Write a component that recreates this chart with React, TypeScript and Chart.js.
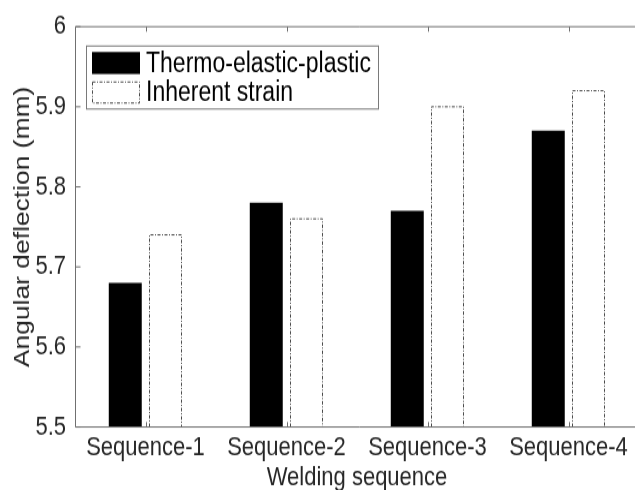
import React, { useEffect, useRef } from "react";
import { Chart, registerables } from "chart.js";

Chart.register(...registerables);

const categories = ["Sequence-1", "Sequence-2", "Sequence-3", "Sequence-4"];
const thermoValues = [5.68, 5.78, 5.77, 5.87];
const inherentValues = [5.74, 5.76, 5.9, 5.92];
const seriesLabels = ["Thermo-elastic-plastic", "Inherent strain"];
const yTicks = [5.5, 5.6, 5.7, 5.8, 5.9, 6];
const yTickLabels = ["5.5", "5.6", "5.7", "5.8", "5.9", "6"];
const xTitle = "Welding sequence";
const yTitle = "Angular deflection (mm)";

const FONT = "'Liberation Sans', Arial, Helvetica, sans-serif";
const TEXT = "#262626";
const AXIS = "#707070";

// the reference picture is stretched vertically; render at a reduced height and stretch with CSS
const CANVAS_W = 645;
const CANVAS_H = 408;
const VIEW_H = 490;
const K = CANVAS_H / VIEW_H;

const framePlugin = {
  id: "matlabFrame",
  afterDatasetsDraw(chart: any) {
    const ctx = chart.ctx;
    const area = chart.chartArea;
    const xs = chart.scales.x;
    const ys = chart.scales.y;
    ctx.save();

    const L = Math.round(area.left) + 0.5;
    const R = area.right;
    const T = area.top;
    const B = area.bottom;

    // dashed outlines of the second series
    const meta = chart.getDatasetMeta(1);
    ctx.strokeStyle = "#4a4a4a";
    ctx.lineWidth = 1;
    ctx.setLineDash([3, 1.5, 1, 1.5]);
    meta.data.forEach((el: any) => {
      const p = el.getProps(["x", "y", "base", "width"], true);
      const l = Math.round(p.x - p.width / 2) + 0.5;
      const r = Math.round(p.x + p.width / 2) - 0.5;
      const t = p.y;
      const b = Math.min(p.base, B);
      ctx.beginPath();
      ctx.moveTo(l, b);
      ctx.lineTo(l, t);
      ctx.lineTo(r, t);
      ctx.lineTo(r, b);
      ctx.stroke();
    });
    ctx.setLineDash([]);

    // axes box (left, top, bottom)
    ctx.strokeStyle = AXIS;
    ctx.lineWidth = 1;
    ctx.beginPath();
    ctx.moveTo(R + 5, T);
    ctx.lineTo(L, T);
    ctx.lineTo(L, B);
    ctx.lineTo(R + 5, B);
    ctx.stroke();

    // inward ticks
    ctx.beginPath();
    yTicks.forEach((v) => {
      const y = ys.getPixelForValue(v);
      ctx.moveTo(L, y);
      ctx.lineTo(L + 5, y);
    });
    categories.forEach((_, i) => {
      const x = Math.round(xs.getPixelForValue(i)) + 0.5;
      ctx.moveTo(x, B);
      ctx.lineTo(x, B - 5 * K);
      ctx.moveTo(x, T);
      ctx.lineTo(x, T + 5 * K);
    });
    ctx.stroke();

    // legend
    const lx = 86.5;
    const ly = 46 * K;
    const lw = 292;
    const lh = 63 * K;
    ctx.fillStyle = "#ffffff";
    ctx.fillRect(lx, ly, lw, lh);
    ctx.strokeStyle = "#7a7a7a";
    ctx.strokeRect(lx, ly, lw, lh);

    ctx.font = `23px ${FONT}`;
    ctx.textBaseline = "middle";
    ctx.textAlign = "left";
    ctx.fillStyle = "#000000";
    ctx.fillRect(92, 52 * K, 48, 22 * K);
    ctx.fillText(chart.data.datasets[0].label, 146, 64 * K);
    ctx.strokeStyle = "#4a4a4a";
    ctx.setLineDash([3, 1.5, 1, 1.5]);
    ctx.strokeRect(92.5, 82 * K, 47, 21 * K);
    ctx.setLineDash([]);
    ctx.fillStyle = "#000000";
    ctx.fillText(chart.data.datasets[1].label, 146, 93 * K);

    ctx.restore();
  },
};

export default function App() {
  const ref = useRef<HTMLCanvasElement | null>(null);

  useEffect(() => {
    if (!ref.current) return;
    const chart = new Chart(ref.current, {
      type: "bar",
      data: {
        labels: categories,
        datasets: [
          {
            label: seriesLabels[0],
            data: thermoValues,
            backgroundColor: "#000000",
            borderColor: "#000000",
            borderWidth: 0,
            categoryPercentage: 0.574,
            barPercentage: 0.815,
          },
          {
            label: seriesLabels[1],
            data: inherentValues,
            backgroundColor: "#ffffff",
            borderWidth: 0,
            categoryPercentage: 0.574,
            barPercentage: 0.815,
          },
        ],
      },
      options: {
        responsive: false,
        animation: false,
        devicePixelRatio: 1,
        layout: { padding: { top: 19 * K, right: 6, left: 0, bottom: 0 } },
        plugins: {
          legend: { display: false },
          tooltip: { enabled: false },
        },
        scales: {
          x: {
            type: "category",
            offset: true,
            grid: { display: false, drawTicks: false },
            border: { display: false },
            ticks: {
              color: TEXT,
              font: { family: FONT, size: 22 },
              padding: 4,
              maxRotation: 0,
              autoSkip: false,
            },
            title: {
              display: true,
              text: xTitle,
              color: TEXT,
              font: { family: FONT, size: 22 },
              padding: { top: 0, bottom: -3 },
            },
            afterFit(scale: any) {
              scale.height = CANVAS_H - 427 * K;
            },
          },
          y: {
            min: 5.5,
            max: 6,
            grid: { display: false, drawTicks: false },
            border: { display: false },
            afterBuildTicks(scale: any) {
              scale.ticks = yTicks.map((v) => ({ value: v }));
            },
            ticks: {
              color: TEXT,
              font: { family: FONT, size: 22 },
              padding: 9,
              callback: (v: any) => {
                const i = yTicks.findIndex((t) => Math.abs(t - Number(v)) < 1e-9);
                return i >= 0 ? yTickLabels[i] : "";
              },
            },
            title: {
              display: true,
              text: yTitle,
              color: TEXT,
              font: { family: FONT, size: 22 },
              padding: { top: 10, bottom: 0 },
            },
            afterFit(scale: any) {
              scale.width = 75;
            },
          },
        },
      },
      plugins: [framePlugin],
    });
    return () => chart.destroy();
  }, []);

  return (
    <div
      style={{
        position: "fixed",
        left: 0,
        top: 0,
        width: 635,
        height: VIEW_H,
        overflow: "hidden",
        background: "#ffffff",
      }}
    >
      <canvas
        ref={ref}
        width={CANVAS_W}
        height={CANVAS_H}
        style={{ display: "block", width: CANVAS_W + "px", height: VIEW_H + "px" }}
      />
    </div>
  );
}
